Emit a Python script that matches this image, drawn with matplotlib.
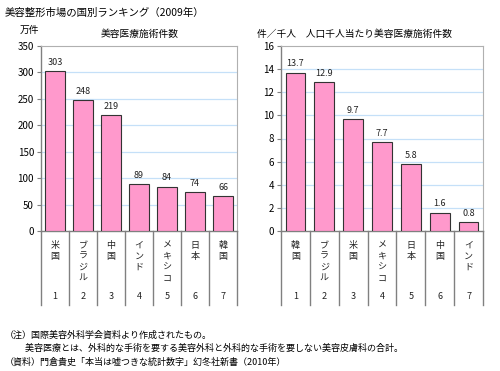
import numpy as np
import matplotlib
matplotlib.use("Agg")
from matplotlib import pyplot as plt

plt.rcParams['font.family'] = ['Noto Sans CJK JP', 'DejaVu Sans']

# data
cats_left = ["米国", "ブラジル", "中国", "インド", "メキシコ", "日本", "韓国"]
vals_left = [303, 248, 219, 89, 84, 74, 66]
cats_right = ["韓国", "ブラジル", "米国", "メキシコ", "日本", "中国", "インド"]
vals_right = [13.7, 12.9, 9.7, 7.7, 5.8, 1.6, 0.8]
ranks = ["1", "2", "3", "4", "5", "6", "7"]

pink = "#FF99CC"
grid_c = "#C5E0F8"
line_c = "#808080"

fig = plt.figure(figsize=(5, 3.71), dpi=100)
W, H = 500, 371


def make_ax(x0, x1, y0, y1):
    return fig.add_axes([x0 / W, 1 - y1 / H, (x1 - x0) / W, (y1 - y0) / H])


def draw(ax, cats, vals, ymax, step, fmt):
    x = np.arange(len(cats))
    ax.bar(x, vals, width=0.68, color=pink, edgecolor="#333333", linewidth=0.8, zorder=3)
    ax.set_xlim(-0.5, len(cats) - 0.5)
    ax.set_ylim(0, ymax)
    ax.set_yticks(np.arange(0, ymax + step / 2, step))
    ax.tick_params(axis='y', labelsize=7, length=3, color=line_c, pad=2)
    ax.set_xticks([])
    for t in ax.get_yticks()[1:-1]:
        ax.axhline(t, color=grid_c, lw=0.9, zorder=1)
    for s in ["top", "right"]:
        ax.spines[s].set_color("#B0B0B0")
    for s in ["left", "bottom"]:
        ax.spines[s].set_color(line_c)
        ax.spines[s].set_linewidth(1.0)
    for xi, v in zip(x, vals):
        ax.annotate(fmt.format(v), (xi, v), xytext=(0, 3), textcoords="offset points",
                    ha="center", va="bottom", fontsize=6.5, color="#222222")
    # category table below the axis
    tr = ax.get_xaxis_transform()
    for i in range(len(cats) + 1):
        ax.plot([i - 0.5, i - 0.5], [0, -0.40], transform=tr, color=line_c,
                lw=1.0, clip_on=False)
    for xi, c, r in zip(x, cats, ranks):
        ax.text(xi, -0.055, "\n".join(c), transform=tr, ha="center", va="top",
                fontsize=6.5, linespacing=1.25, color="#222222")
        ax.text(xi, -0.355, r, transform=tr, ha="center", va="center",
                fontsize=6.5, color="#222222")


ax1 = make_ax(41, 237, 46, 231)
draw(ax1, cats_left, vals_left, 350, 50, "{:d}")
ax2 = make_ax(281, 483, 46, 231)
draw(ax2, cats_right, vals_right, 16, 2, "{:.1f}")

fig.text(5 / W, 1 - 13 / H, "美容整形市場の国別ランキング（2009年）", fontsize=7.5,
         va="center", ha="left")
fig.text(20 / W, 1 - 30 / H, "万件", fontsize=7, va="center", ha="left")
fig.text(140 / W, 1 - 34 / H, "美容医療施術件数", fontsize=7, va="center", ha="center")
fig.text(257 / W, 1 - 34 / H, "件／千人　人口千人当たり美容医療施術件数", fontsize=7,
         va="center", ha="left")

notes = [
    "（注）国際美容外科学会資料より作成されたもの。",
    "　　 美容医療とは、外科的な手術を要する美容外科と外科的な手術を要しない美容皮膚科の合計。",
    "（資料）門倉貴史「本当は嘘つきな統計数字」幻冬社新書（2010年）",
]
for i, n in enumerate(notes):
    fig.text(5 / W, 1 - (335 + i * 13.5) / H, n, fontsize=6.5, va="center", ha="left")

fig.savefig("out.png", dpi=100)
